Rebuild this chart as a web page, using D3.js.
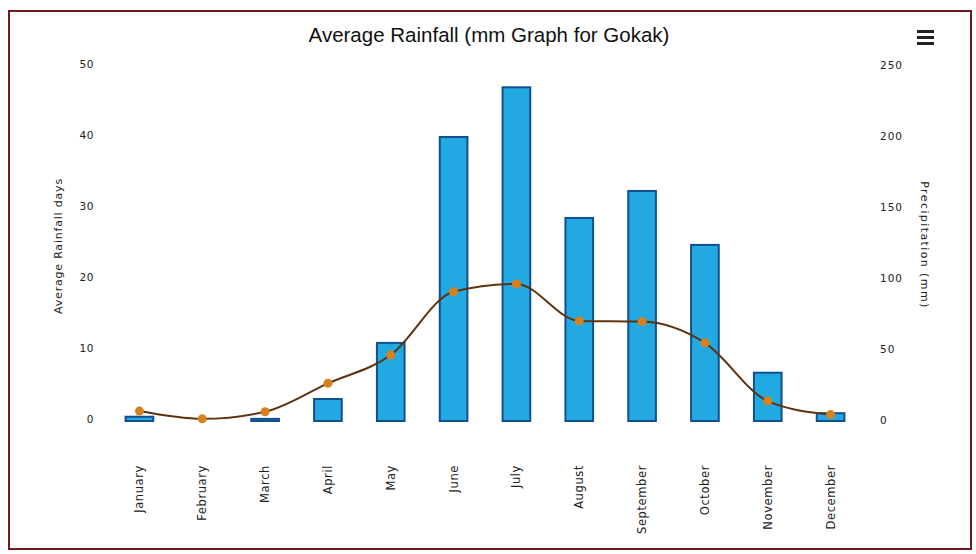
<!DOCTYPE html>
<html>
<head>
<meta charset="utf-8">
<script src="https://cdn.jsdelivr.net/npm/d3@7"></script>
<style>
  body { margin: 0; background: #fff; }
  text { font-family: "DejaVu Sans", sans-serif; fill: #222; }
</style>
</head>
<body>
<div id="chart-area"></div>
<script>
const WIDTH = 976;
const HEIGHT = 554;

// data
const months = ["January", "February", "March", "April", "May", "June",
  "July", "August", "September", "October", "November", "December"];
const precipitation = [3, 0, 1.5, 15.5, 55, 200, 235, 143, 162, 124, 34, 5.5];
const rainfallDays = [1.4, 0.3, 1.3, 5.3, 9.3, 18.2, 19.3, 14.1, 14.0, 11.0, 2.8, 0.9];
const leftTicks = [0, 10, 20, 30, 40, 50];
const rightTicks = [0, 50, 100, 150, 200, 250];

const PLOT = { LEFT: 108, RIGHT: 862, TOP: 66, BOTTOM: 421 };

const svg = d3.select("#chart-area")
  .append("svg")
  .attr("width", WIDTH)
  .attr("height", HEIGHT);

// frame
svg.append("rect")
  .attr("x", 9)
  .attr("y", 11)
  .attr("width", 962)
  .attr("height", 538)
  .attr("fill", "#fff")
  .attr("stroke", "#6e1a1e")
  .attr("stroke-width", 2);

// scales
const x = d3.scaleBand()
  .domain(months)
  .range([PLOT.LEFT, PLOT.RIGHT]);
const yDays = d3.scaleLinear().domain([0, 50]).range([PLOT.BOTTOM, PLOT.TOP]);
const yPrec = d3.scaleLinear().domain([0, 250]).range([PLOT.BOTTOM, PLOT.TOP]);
const barW = x.bandwidth() * 0.44;

// title
svg.append("text")
  .attr("x", 489)
  .attr("y", 42)
  .attr("text-anchor", "middle")
  .attr("font-size", "20.5px")
  .style("font-family", "'Liberation Sans', Arial, sans-serif")
  .style("fill", "#111")
  .text("Average Rainfall (mm Graph for Gokak)");

// menu icon
const menu = svg.append("g").attr("transform", "translate(917, 30)");
[0, 6, 12].forEach((dy) => {
  menu.append("rect")
    .attr("x", 0).attr("y", dy)
    .attr("width", 17).attr("height", 3)
    .attr("fill", "#222");
});

// left axis (rainfall days)
const leftAxis = svg.append("g")
  .attr("transform", `translate(${PLOT.LEFT - 14}, 0)`)
  .call(d3.axisLeft(yDays).tickValues(leftTicks).tickSize(0).tickPadding(0));
leftAxis.select(".domain").remove();
leftAxis.selectAll("text")
  .attr("font-size", "10.5px")
  .attr("letter-spacing", "0.6px")
  .attr("dy", "0.1em")
  .style("font-family", "'DejaVu Sans', sans-serif");

// right axis (precipitation)
const rightAxis = svg.append("g")
  .attr("transform", `translate(${PLOT.RIGHT + 18}, 0)`)
  .call(d3.axisRight(yPrec).tickValues(rightTicks).tickSize(0).tickPadding(0));
rightAxis.select(".domain").remove();
rightAxis.selectAll("text")
  .attr("font-size", "10.5px")
  .attr("letter-spacing", "1px")
  .attr("dy", "0.2em")
  .style("font-family", "'DejaVu Sans', sans-serif");

// axis titles
svg.append("text")
  .attr("transform", "translate(62, 246) rotate(-90)")
  .attr("text-anchor", "middle")
  .attr("font-size", "11px")
  .attr("letter-spacing", "0.8px")
  .text("Average Rainfall days");

svg.append("text")
  .attr("transform", "translate(921, 245) rotate(90)")
  .attr("text-anchor", "middle")
  .attr("font-size", "11px")
  .attr("letter-spacing", "1.4px")
  .text("Precipitation (mm)");

// month labels
svg.append("g")
  .selectAll("text")
  .data(months)
  .enter()
  .append("text")
  .attr("transform", (d) => `translate(${x(d) + x.bandwidth() / 2 + 4}, 465) rotate(-90)`)
  .attr("text-anchor", "end")
  .attr("font-size", "11.5px")
  .attr("letter-spacing", "0.6px")
  .text((d) => d);

// bars
svg.append("g")
  .selectAll("rect")
  .data(precipitation)
  .enter()
  .append("rect")
  .attr("x", (d, i) => x(months[i]) + (x.bandwidth() - barW) / 2)
  .attr("y", (d) => yPrec(d))
  .attr("width", barW)
  .attr("height", (d) => PLOT.BOTTOM - yPrec(d))
  .attr("fill", "#23a9e1")
  .attr("stroke", "#134f8e")
  .attr("stroke-width", 2);

// spline of rainfall days
const line = d3.line()
  .x((d, i) => x(months[i]) + x.bandwidth() / 2)
  .y((d) => yDays(d))
  .curve(d3.curveMonotoneX);

svg.append("path")
  .attr("d", line(rainfallDays))
  .attr("fill", "none")
  .attr("stroke", "#5e3210")
  .attr("stroke-width", 2);

svg.append("g")
  .selectAll("circle")
  .data(rainfallDays)
  .enter()
  .append("circle")
  .attr("cx", (d, i) => x(months[i]) + x.bandwidth() / 2)
  .attr("cy", (d) => yDays(d))
  .attr("r", 4.5)
  .attr("fill", "#d8801e");
</script>
</body>
</html>
